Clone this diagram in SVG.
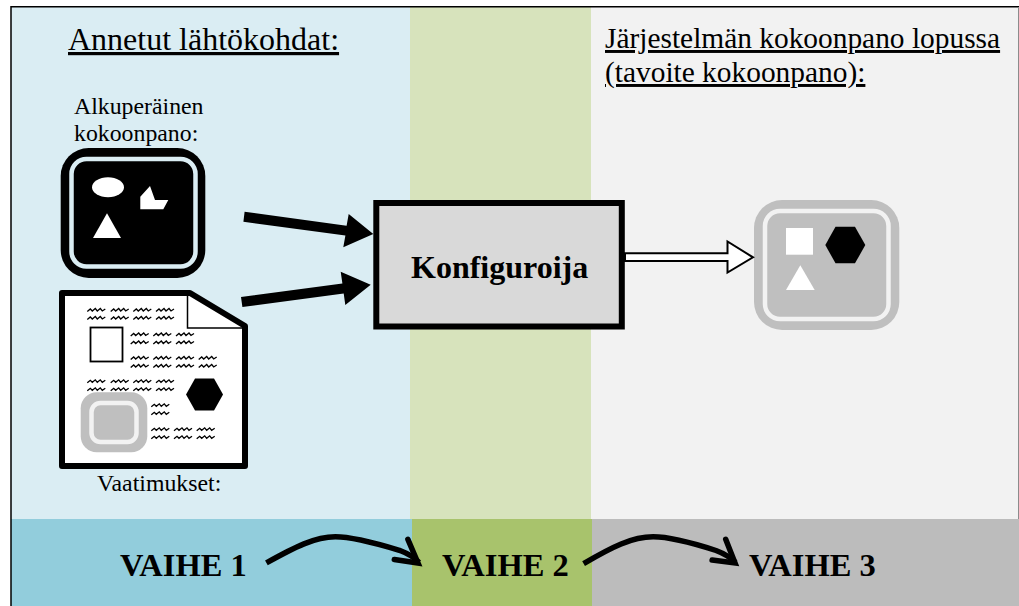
<svg xmlns="http://www.w3.org/2000/svg" width="1019" height="606" viewBox="0 0 1019 606">
<style>
text{font-family:"Liberation Serif","Times New Roman",serif;fill:#000}
.h{font-size:32px;text-decoration:underline}
.j{font-size:29.400px;text-decoration:underline}
.s{font-size:23.800px}
.b{font-weight:bold;font-size:32px}
.v{font-weight:bold;font-size:32.500px}
.c{fill:none;stroke:#000;stroke-width:5.500}
</style>
<defs>
<path id="w" fill="none" stroke="#000" stroke-width="1.300" d="M0 4.500L3 2L5 4L8 1.500L10 4L13 1.500L15 4L18 2"/>
<g id="ww"><use href="#w"/><use href="#w" y="8"/></g>
</defs>
<rect width="1019" height="606" fill="#fff"/>
<g id="bands">
<rect x="11" y="7" width="399" height="512" fill="#daedf3"/>
<rect x="410" y="7" width="181" height="512" fill="#d7e3bc"/>
<rect x="591" y="7" width="428" height="512" fill="#f2f2f2"/>
<rect x="11" y="519" width="401" height="87" fill="#92cddc"/>
<rect x="412" y="519" width="180" height="87" fill="#a8c36c"/>
<rect x="592" y="519" width="427" height="87" fill="#bcbcbc"/>
<path d="M11 606V6.800H1019" fill="none" stroke="#000" stroke-width="1.500"/>
<path d="M1018.500 7V519" fill="none" stroke="#8c8c8c" stroke-width="1"/>
</g>
<g id="titles">
<text class="h" x="68" y="50">Annetut lähtökohdat:</text>
<text class="s" x="74" y="114">Alkuperäinen</text>
<text class="s" x="74" y="141">kokoonpano:</text>
<text class="j" x="605" y="48">Järjestelmän kokoonpano lopussa</text>
<text class="j" x="605" y="82">(tavoite kokoonpano):</text>
<text class="s" x="97" y="491">Vaatimukset:</text>
</g>
<g id="alkuperainen">
<rect x="60.700" y="148" width="144.600" height="130" rx="28" fill="#000"/>
<rect x="71.500" y="159" width="124" height="107.500" rx="15" fill="#000" stroke="#daedf3" stroke-width="4.500"/>
<ellipse cx="108" cy="187.300" rx="16" ry="10" fill="#fff"/>
<polygon points="140.300,196.700 150,186 155,200 168.300,200 163.300,209.300 140.300,209.300" fill="#fff"/>
<polygon points="107,213.300 121,238 93,238" fill="#fff"/>
</g>
<g id="vaatimukset">
<path d="M62 293H190L245 326V466H62Z" fill="#fff" stroke="#000" stroke-width="6" stroke-linejoin="round"/>
<path d="M187.500 294V328H244" fill="none" stroke="#000" stroke-width="1.500"/>
<use href="#ww" x="87.300" y="307"/><use href="#ww" x="110.700" y="307"/><use href="#ww" x="133.300" y="307"/><use href="#ww" x="156" y="307"/>
<use href="#ww" x="130.700" y="331.500"/><use href="#ww" x="153.300" y="331.500"/><use href="#ww" x="176" y="331.500"/>
<use href="#ww" x="130.700" y="355"/><use href="#ww" x="153.300" y="355"/><use href="#ww" x="176" y="355"/><use href="#ww" x="198.700" y="355"/>
<use href="#ww" x="87.300" y="378.300"/><use href="#ww" x="110.700" y="378.300"/><use href="#ww" x="133.300" y="378.300"/><use href="#ww" x="156" y="378.300"/>
<use href="#ww" x="151.300" y="402.300"/>
<use href="#ww" x="151.300" y="426.300"/><use href="#ww" x="174" y="426.300"/><use href="#ww" x="196.700" y="426.300"/>
<rect x="90.500" y="327.500" width="32" height="34" fill="#fff" stroke="#000" stroke-width="1.800"/>
<polygon points="186,394.500 195,378.500 214,378.500 223,394.500 214,410.500 195,410.500" fill="#000"/>
<rect x="80.700" y="392.300" width="66.600" height="60" rx="16" fill="#bfbfbf"/>
<rect x="91.500" y="403" width="45" height="39" rx="9" fill="#bfbfbf" stroke="#f2f2f2" stroke-width="4.500"/>
</g>
<g id="konfiguroija">
<rect x="376.300" y="203" width="245.500" height="123.500" fill="#d9d9d9" stroke="#000" stroke-width="6"/>
<text class="b" x="411" y="278">Konfiguroija</text>
</g>
<g id="tavoite">
<rect x="754" y="200" width="145.300" height="130" rx="28" fill="#bfbfbf"/>
<rect x="765" y="211" width="123.500" height="108" rx="15" fill="#bfbfbf" stroke="#f2f2f2" stroke-width="4.500"/>
<rect x="786" y="228" width="27" height="26.700" fill="#fff"/>
<polygon points="825.300,245 835.500,226.700 855,226.700 865.300,245 855,263.300 835.500,263.300" fill="#000"/>
<polygon points="800.300,265.300 814.700,290 786,290" fill="#fff"/>
</g>
<g id="vaiheet">
<text class="v" x="120" y="576">VAIHE 1</text>
<text class="v" x="442" y="576">VAIHE 2</text>
<text class="v" x="749" y="576">VAIHE 3</text>
</g>
<g id="connectors">
<polygon points="244.600,211.700 346.600,225.700 348.700,214 373.300,234 343.300,247.300 345.400,235.600 243.400,221.700" fill="#000"/>
<polygon points="241,297 342.400,283.400 340.700,271.700 370.700,284.700 345.300,305 343.700,293.400 242.400,307" fill="#000"/>
<polygon points="625,253.300 727.500,253.300 727.500,241.500 753,257.300 727.500,272.500 727.500,261 625,261" fill="#fff" stroke="#000" stroke-width="2"/>
<path class="c" d="M266.400 562.900C295 547 315 536.800 335.400 536.800C355 536.800 385 546 400 550.500Q412 555 419 562.500"/>
<path class="c" stroke-linecap="round" d="M407.900 539.300L418 563L394.300 559.500"/>
<path class="c" d="M583.600 563.600C612 547 632 536.800 653.200 536.800C672 536.800 702 546 716 550.500Q728 555 735.500 562.500"/>
<path class="c" stroke-linecap="round" d="M725.700 539.300L735 563L712.100 560"/>
</g>
</svg>
